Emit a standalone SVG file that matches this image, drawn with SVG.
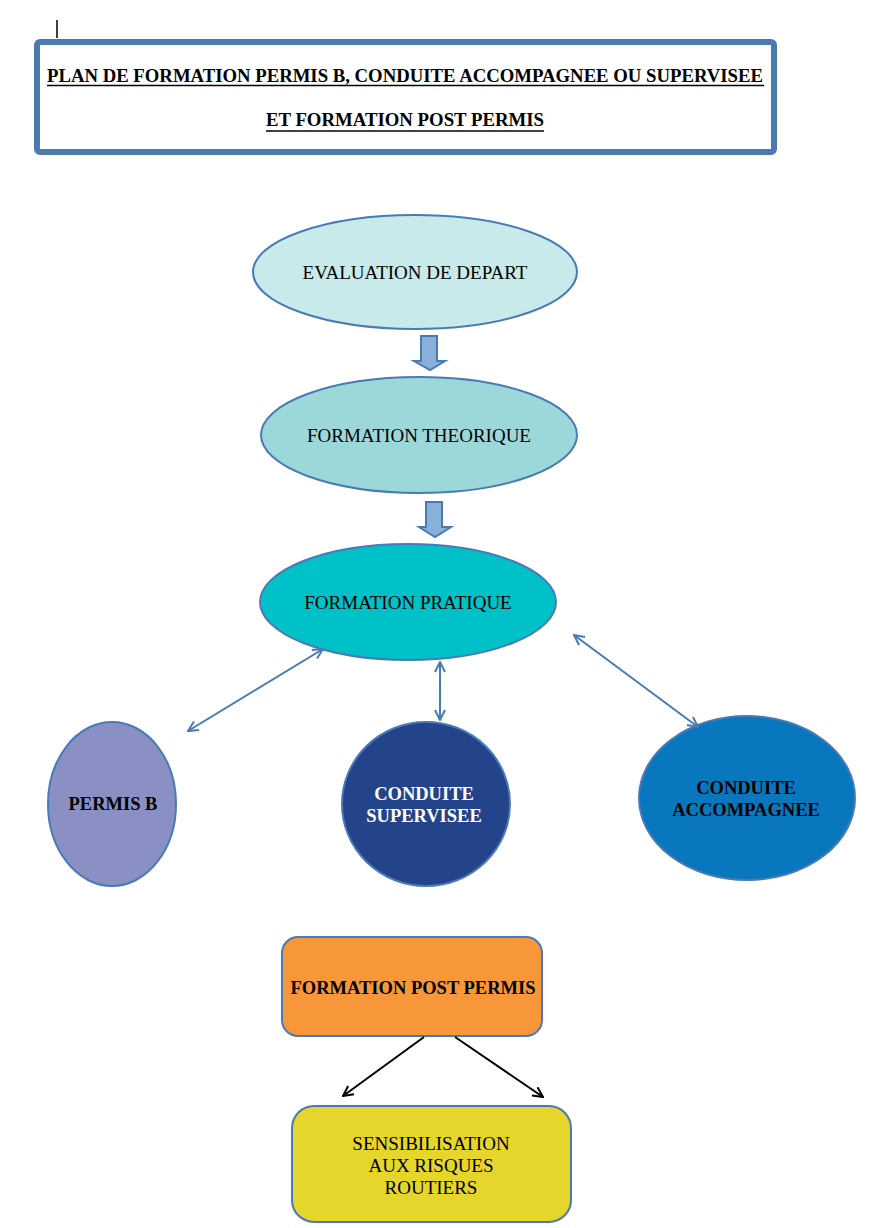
<svg xmlns="http://www.w3.org/2000/svg" width="886" height="1228" viewBox="0 0 886 1228">
<style>
text{font-family:"Liberation Serif","Times New Roman",serif;fill:#000;text-anchor:middle}
.t{font-size:19px;font-weight:bold}
.n{font-size:19px}
.b{font-size:18.5px;font-weight:bold}
.w{fill:#fff}
.node{stroke:#4a7ab5;stroke-width:2}
.dbl{stroke:#4a7ab5;stroke-width:2;fill:none;marker-start:url(#ab);marker-end:url(#ab)}
.blk{stroke:#000;stroke-width:2;fill:none;marker-end:url(#ak)}
.blockarrow{fill:#88b0d8;stroke:#4a7ab5;stroke-width:2}
</style>
<defs>
<marker id="ab" viewBox="0 0 12 12" refX="11" refY="6" markerWidth="12" markerHeight="12" markerUnits="userSpaceOnUse" orient="auto-start-reverse">
<path d="M1,1 L11,6 L1,11" fill="none" stroke="#4a7ab5" stroke-width="2"/>
</marker>
<marker id="ak" viewBox="0 0 12 12" refX="11" refY="6" markerWidth="12" markerHeight="12" markerUnits="userSpaceOnUse" orient="auto">
<path d="M1,1 L11,6 L1,11" fill="none" stroke="#000" stroke-width="2"/>
</marker>
</defs>
<rect width="886" height="1228" fill="#fff"/>
<line x1="57" y1="20" x2="57" y2="38" stroke="#000" stroke-width="1.5"/>
<g id="title">
<rect x="37" y="42" width="737" height="110" rx="3" fill="#fff" stroke="#4a7ab0" stroke-width="6"/>
<text class="t" x="405" y="82" textLength="716" lengthAdjust="spacingAndGlyphs">PLAN DE FORMATION PERMIS B, CONDUITE ACCOMPAGNEE OU SUPERVISEE</text>
<line x1="47" y1="85.5" x2="764" y2="85.5" stroke="#000" stroke-width="1.5"/>
<text class="t" x="405" y="126" textLength="278" lengthAdjust="spacingAndGlyphs">ET FORMATION POST PERMIS</text>
<line x1="266" y1="131" x2="544" y2="131" stroke="#000" stroke-width="1.5"/>
</g>
<g id="evaluation">
<ellipse class="node" cx="415" cy="272" rx="162" ry="57" fill="#c8eaea"/>
<text class="n" x="415" y="279">EVALUATION DE DEPART</text>
</g>
<g id="theorique">
<ellipse class="node" cx="419" cy="435" rx="158" ry="58" fill="#9cd8da"/>
<text class="n" x="419" y="442">FORMATION THEORIQUE</text>
</g>
<g id="pratique">
<ellipse class="node" cx="408" cy="602" rx="148" ry="58" fill="#00c0c8"/>
<text class="n" x="408" y="609">FORMATION PRATIQUE</text>
</g>
<g id="permisb">
<ellipse class="node" cx="112" cy="804" rx="64" ry="82" fill="#8a8fc4"/>
<text class="b" x="113" y="810">PERMIS B</text>
</g>
<g id="supervisee">
<ellipse class="node" cx="426" cy="804" rx="84" ry="82" fill="#23438a"/>
<text class="b w" x="424" y="800">CONDUITE</text>
<text class="b w" x="424" y="822">SUPERVISEE</text>
</g>
<g id="accompagnee">
<ellipse class="node" cx="747" cy="798" rx="108" ry="82" fill="#0877be"/>
<text class="b" x="746" y="794">CONDUITE</text>
<text class="b" x="746" y="816">ACCOMPAGNEE</text>
</g>
<g id="postpermis">
<rect class="node" x="282" y="937" width="260" height="99" rx="16" fill="#f7973a"/>
<text class="b" x="413" y="994">FORMATION POST PERMIS</text>
</g>
<g id="sensibilisation">
<rect class="node" x="292" y="1106" width="279" height="116" rx="22" fill="#e6d52a"/>
<text class="n" x="431" y="1150">SENSIBILISATION</text>
<text class="n" x="431" y="1172">AUX RISQUES</text>
<text class="n" x="431" y="1194">ROUTIERS</text>
</g>
<g id="connectors">
<path class="blockarrow" d="M421,336 H437 V361 H445 L430,370 L414,361 H421 Z"/>
<path class="blockarrow" d="M426,502 H442 V527 H451 L435,537 L419,527 H426 Z"/>
<line class="dbl" x1="188" y1="731" x2="323" y2="649"/>
<line class="dbl" x1="440" y1="662" x2="440" y2="720"/>
<line class="dbl" x1="574" y1="635" x2="698" y2="727"/>
<line class="blk" x1="424" y1="1037" x2="343" y2="1096"/>
<line class="blk" x1="455" y1="1037" x2="543" y2="1097"/>
</g>
</svg>
